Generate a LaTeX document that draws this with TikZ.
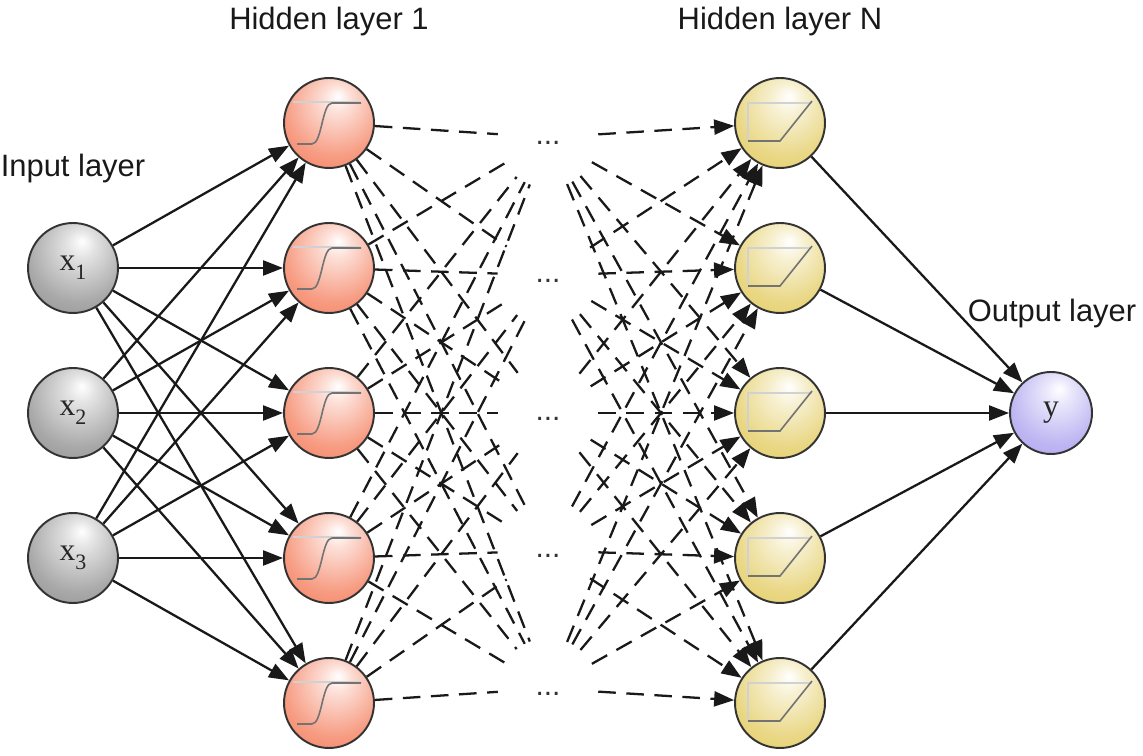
\documentclass[tikz,border=0pt]{standalone}
\usepackage{fontspec}
\setmainfont{Liberation Serif}
\newfontfamily\labelfont{Liberation Sans}
\usetikzlibrary{arrows.meta}

\definecolor{inputgray}{RGB}{140,140,140}
\definecolor{hidA}{RGB}{244,122,88}
\definecolor{hidN}{RGB}{226,202,92}
\definecolor{outviolet}{RGB}{168,158,238}

\pgfdeclareradialshading[ballcol]{neuronball}{\pgfpoint{5bp}{15bp}}{%
  color(0bp)=(white); color(8bp)=(ballcol!25!white); color(28bp)=(ballcol!75!white);
  color(45bp)=(ballcol); color(62bp)=(ballcol!78!black); color(70bp)=(ballcol!78!black)}

\begin{document}
\begin{tikzpicture}[x=0.02cm, y=-0.02cm,
	ncolor/.code={\colorlet{ballcol}{#1}},
	neuron/.style={circle, draw=black!80, line width=1.1pt, minimum size=1.8cm, inner sep=0pt,
		shading=neuronball, ncolor=#1, text=black!85, font=\fontsize{18}{21}\selectfont},
	dotsnode/.style={circle, minimum size=2cm, inner sep=0pt, text=black!80,
		font=\labelfont\fontsize{17}{20}\selectfont},
	layer/.style={font=\labelfont\fontsize{17.6}{20}\selectfont, text=black!90, anchor=base},
	headed/.style={-{Triangle[length=0.4cm,width=0.3cm]}},
	wire/.style={line width=1.3pt, draw=black!90, headed},
	dashwire/.style={line width=1.3pt, draw=black!90, dash pattern=on 10pt off 6pt},
	icon/.style={draw=black!55, line width=0.9pt},
	faint/.style={draw=black!18, line width=0.6pt}]
	\useasboundingbox (0,0) rectangle (1143,756);

	\foreach \k/\y in {1/268,2/413,3/558}
		\node[neuron=inputgray] (in\k) at (73,\y) {x\raisebox{-5pt}{\fontsize{12.5}{14}\selectfont\k}};
	\foreach \k in {1,...,5} {
		\pgfmathsetmacro\yy{123+145*(\k-1)}
		\pgfmathsetmacro\ym{413+0.95*(\yy-413)}
		\node[neuron=hidA] (hA\k) at (329,\yy) {};
		\node[neuron=hidN] (hN\k) at (780,\yy) {};
		\node[dotsnode] (dots\k) at (548,\ym) {\strut...};
		\begin{scope}[shift={(hA\k.center)}]
			\draw[faint] (-36,-21) -- (32,-21);
			\draw[icon] (-32,21) -- (-17,21) .. controls (-7,21) and (-7,-20) .. (3,-20) -- (32,-20);
		\end{scope}
		\begin{scope}[shift={(hN\k.center)}]
			\draw[faint] (-32,18) -- (-32,-20) -- (32,-20);
			\draw[icon] (-32,18) -- (0,18) -- (32,-22);
		\end{scope}
	}
	\node[neuron=outviolet, minimum size=1.64cm] (out) at (1051,413) {y};

	\foreach \i in {1,2,3}
		\foreach \k in {1,...,5}
			\draw[wire] (in\i) -- (hA\k);
	\foreach \i in {1,...,5}
		\foreach \k in {1,...,5} {
			\draw[dashwire] (hA\i) -- (dots\k);
			\draw[dashwire, headed] (dots\k) -- (hN\i);
		}
	\foreach \k in {1,...,5}
		\draw[wire] (hN\k) -- (out);

	\node[layer] (lblin) at (73,177) {Input layer};
	\node[layer] (lblA) at (329,30) {Hidden layer 1};
	\node[layer] (lblN) at (780,30) {Hidden layer N};
	\node[layer] (lblout) at (1052,322) {Output layer};
\end{tikzpicture}
\end{document}
